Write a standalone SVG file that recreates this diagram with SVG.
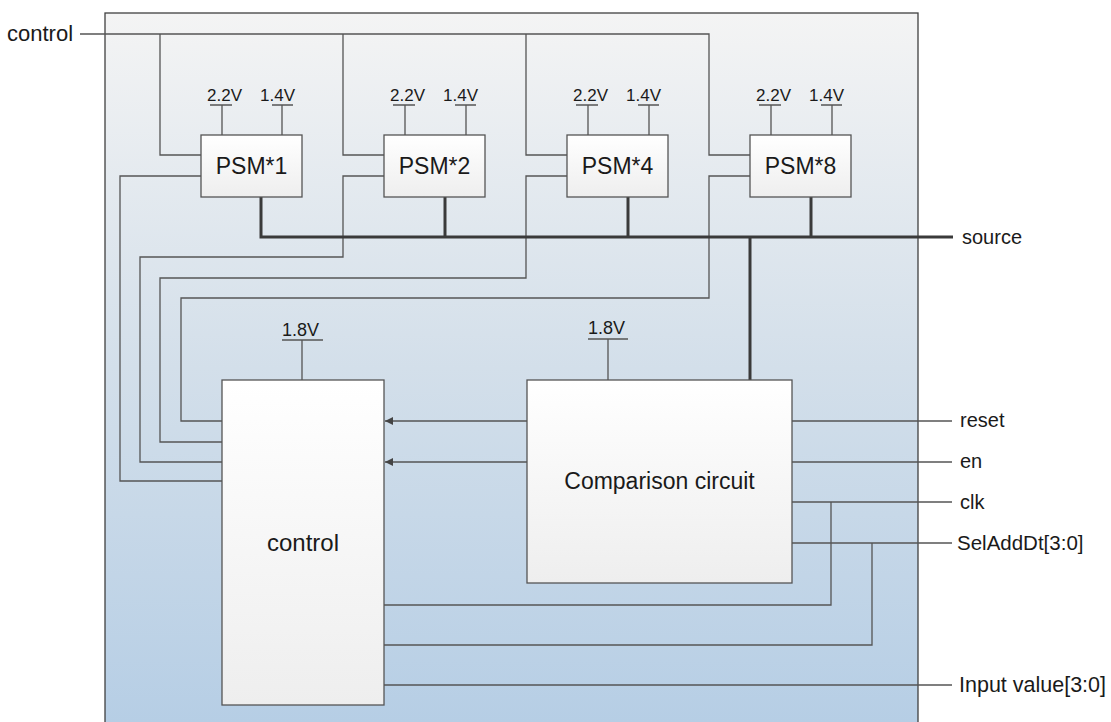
<svg xmlns="http://www.w3.org/2000/svg" width="1111" height="722" viewBox="0 0 1111 722">
<defs>
<linearGradient id="bg" x1="0" y1="13" x2="0" y2="722" gradientUnits="userSpaceOnUse">
<stop offset="0" stop-color="#f4f4f4"/>
<stop offset="0.5" stop-color="#d3dfea"/>
<stop offset="1" stop-color="#b6cee5"/>
</linearGradient>
<linearGradient id="box" x1="0" y1="0" x2="0" y2="1">
<stop offset="0" stop-color="#ffffff"/>
<stop offset="1" stop-color="#eeeeee"/>
</linearGradient>
<marker id="arr" viewBox="0 0 10 10" refX="10" refY="5" markerWidth="9" markerHeight="8" markerUnits="userSpaceOnUse" orient="auto">
<path d="M0,0 L10,5 L0,10 z" fill="#444"/>
</marker>
</defs>
<style>
.t{font-family:"Liberation Sans",Arial,sans-serif;fill:#1a1a1a}
.box{fill:url(#box);stroke:#555;stroke-width:1.3}
.w{fill:none;stroke:#555;stroke-width:1.3}
.b{fill:none;stroke:#3a3a3a;stroke-width:3}
.v{font-size:17px}
.lbl{font-size:20px}
.big{font-size:23px}
</style>
<rect id="container" x="105" y="13" width="813" height="720" fill="url(#bg)" stroke="#404040" stroke-width="1.3"/>

<g id="connectors">
<path class="w" d="M80,34 H709 V155 H750"/>
<path class="w" d="M160,34 V155 H201"/>
<path class="w" d="M343,34 V155 H384"/>
<path class="w" d="M526,34 V155 H567"/>
<path class="w" d="M201,176 H120 V481 H222"/>
<path class="w" d="M384,176 H343 V257 H140 V462 H222"/>
<path class="w" d="M567,176 H526 V278 H160 V442 H222"/>
<path class="w" d="M750,176 H709 V298 H181 V421 H222"/>
<path class="w" d="M210,105 H232 M222,105 V135 M272,105 H293 M282,105 V135"/>
<path class="w" d="M393,105 H415 M405,105 V135 M455,105 H476 M466,105 V135"/>
<path class="w" d="M576,105 H598 M588,105 V135 M638,105 H659 M649,105 V135"/>
<path class="w" d="M759,105 H781 M771,105 V135 M821,105 H842 M832,105 V135"/>
<path class="w" d="M282,340 H323 M302,340 V380"/>
<path class="w" d="M588,339 H628 M608,339 V380"/>
<path class="b" d="M261,197 V237 H953"/>
<path class="b" d="M445,197 V237"/>
<path class="b" d="M628,197 V237"/>
<path class="b" d="M811,197 V237"/>
<path class="b" d="M750,237 V380"/>
<path class="w" d="M527,421 H385" marker-end="url(#arr)"/>
<path class="w" d="M527,462 H385" marker-end="url(#arr)"/>
<path class="w" d="M792,421 H952"/>
<path class="w" d="M792,462 H952"/>
<path class="w" d="M792,502 H952 M831,502 V605 H384"/>
<path class="w" d="M792,543 H952 M872,543 V645 H384"/>
<path class="w" d="M384,685 H952"/>
</g>

<g id="psm1"><rect class="box" x="201" y="135" width="101" height="62"/><text class="t big" x="251.5" y="174" text-anchor="middle">PSM*1</text>
<text class="t v" x="207" y="101">2.2V</text><text class="t v" x="260" y="101">1.4V</text></g>
<g id="psm2"><rect class="box" x="384" y="135" width="101" height="62"/><text class="t big" x="434.5" y="174" text-anchor="middle">PSM*2</text>
<text class="t v" x="390" y="101">2.2V</text><text class="t v" x="443" y="101">1.4V</text></g>
<g id="psm4"><rect class="box" x="567" y="135" width="101" height="62"/><text class="t big" x="617.5" y="174" text-anchor="middle">PSM*4</text>
<text class="t v" x="573" y="101">2.2V</text><text class="t v" x="626" y="101">1.4V</text></g>
<g id="psm8"><rect class="box" x="750" y="135" width="101" height="62"/><text class="t big" x="800.5" y="174" text-anchor="middle">PSM*8</text>
<text class="t v" x="756" y="101">2.2V</text><text class="t v" x="809" y="101">1.4V</text></g>

<g id="controlblock"><rect class="box" x="222" y="380" width="162" height="325"/><text class="t big" x="303" y="551" text-anchor="middle" style="font-size:24px">control</text>
<text class="t" x="282" y="336" style="font-size:18px">1.8V</text></g>
<g id="comparison"><rect class="box" x="527" y="380" width="265" height="203"/><text class="t big" x="659.5" y="489" text-anchor="middle">Comparison circuit</text>
<text class="t" x="588" y="334" style="font-size:18px">1.8V</text></g>

<g id="labels">
<text class="t" x="7" y="41" style="font-size:22px">control</text>
<text class="t lbl" x="962" y="244">source</text>
<text class="t lbl" x="960" y="427">reset</text>
<text class="t lbl" x="960" y="468">en</text>
<text class="t lbl" x="960" y="509">clk</text>
<text class="t" x="957" y="550" style="font-size:20.5px">SelAddDt[3:0]</text>
<text class="t" x="959" y="692" style="font-size:21.5px">Input value[3:0]</text>
</g>
</svg>
